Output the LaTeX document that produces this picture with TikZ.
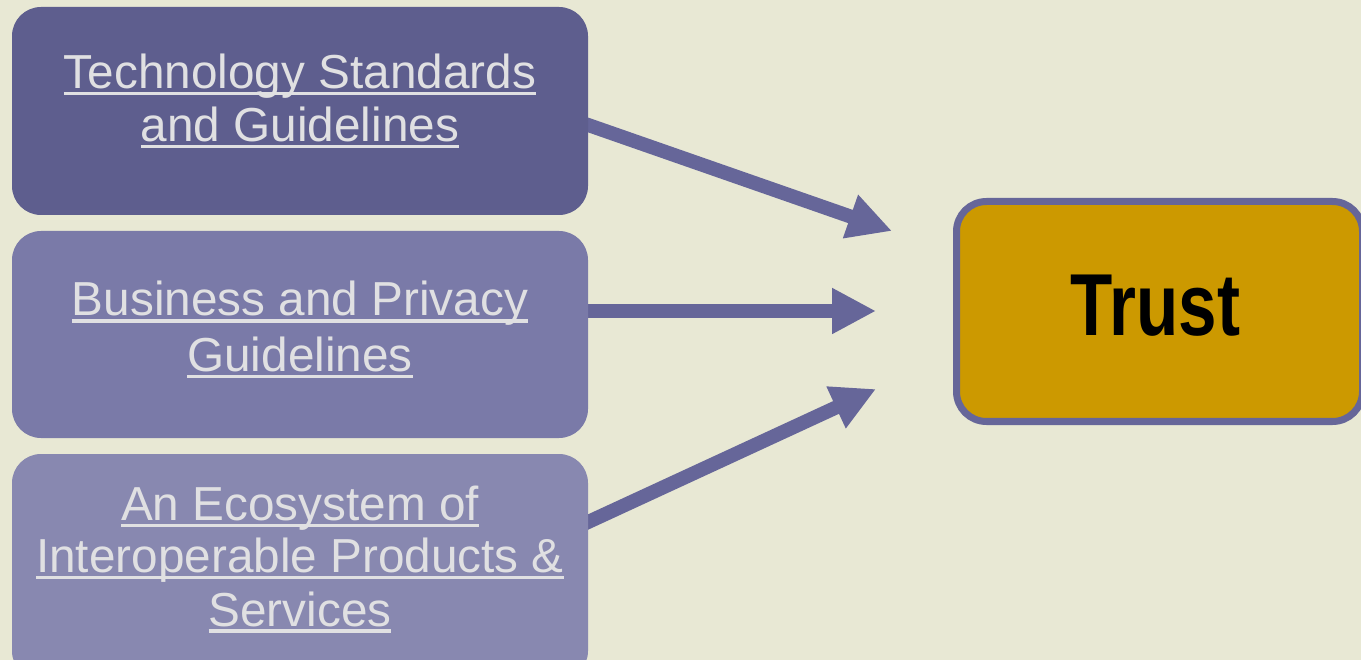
\documentclass[tikz,border=0pt]{standalone}
\usepackage{fontspec}
\usepackage{graphicx}
\setmainfont{Liberation Sans}
\usetikzlibrary{arrows.meta,backgrounds}
\definecolor{bgc}{HTML}{E8E8D4}
\definecolor{boxa}{HTML}{5E5E8E}
\definecolor{boxb}{HTML}{7A7AA8}
\definecolor{boxc}{HTML}{8888B0}
\definecolor{arrc}{HTML}{666699}
\definecolor{trustc}{HTML}{CC9900}
\definecolor{txtc}{HTML}{E0E0E2}
\newcommand\myul[1]{\setbox0\hbox{#1}\rlap{\rule[-6.6pt]{\wd0}{3.2pt}}\box0}
\tikzset{
  sidebox/.style={draw=none, rounded corners=29pt, minimum width=576pt, inner sep=0pt},
  lbl/.style={anchor=base, inner sep=0pt, text=txtc, font=\fontsize{47.7}{53}\selectfont},
  trustbox/.style={draw=arrc, line width=7pt, fill=trustc, rounded corners=30pt, inner sep=0pt, minimum width=406pt, minimum height=220pt},
  trustlbl/.style={anchor=base, inner sep=0pt, text=black, font=\fontsize{88}{100}\selectfont\bfseries},
  conn/.style={draw=arrc, line width=14pt, -{Triangle[length=44pt,width=43pt]}}
}
\begin{document}
\begin{tikzpicture}[x=1pt,y=-1pt]
\useasboundingbox (0,0) rectangle (1361,660);
% side boxes
\node[sidebox, fill=boxa, minimum height=208pt] (t1) at (300,111) {};
\node[sidebox, fill=boxb, minimum height=207pt] (t2) at (300,334.5) {};
\node[sidebox, fill=boxc, minimum height=226pt] (t3) at (300,567) {};
% labels
\node[lbl] (t1a) at (300,88.5) {\myul{Technology Standards}};
\node[lbl] (t1b) at (300,141.7) {\myul{and Guidelines}};
\node[lbl] (t2a) at (300,316) {\myul{Business and Privacy}};
\node[lbl] (t2b) at (300,371.5) {\myul{Guidelines}};
\node[lbl] (t3a) at (300,520.7) {\myul{An Ecosystem of}};
\node[lbl] (t3b) at (300,572.7) {\myul{Interoperable Products \&}};
\node[lbl] (t3c) at (300,626) {\myul{Services}};
% trust
\node[trustbox] (tr) at (1159.5,311.5) {};
\node[trustlbl] (trl) at (1155.5,336) {\scalebox{0.786}[1]{Trust}};
% arrow tips
\coordinate (p1) at (892,231);
\coordinate (p2) at (876,311);
\coordinate (p3) at (876,389);
\begin{pgfonlayer}{background}
\fill[bgc] (0,0) rectangle (1361,660);
\draw[conn] ([xshift=-10pt,yshift=-10.5pt]t1.east) -- (p1);
\draw[conn] ([xshift=-10pt,yshift=23.5pt]t2.east) -- (p2);
\draw[conn] ([xshift=-10pt,yshift=40.4pt]t3.east) -- (p3);
\end{pgfonlayer}
\end{tikzpicture}
\end{document}
